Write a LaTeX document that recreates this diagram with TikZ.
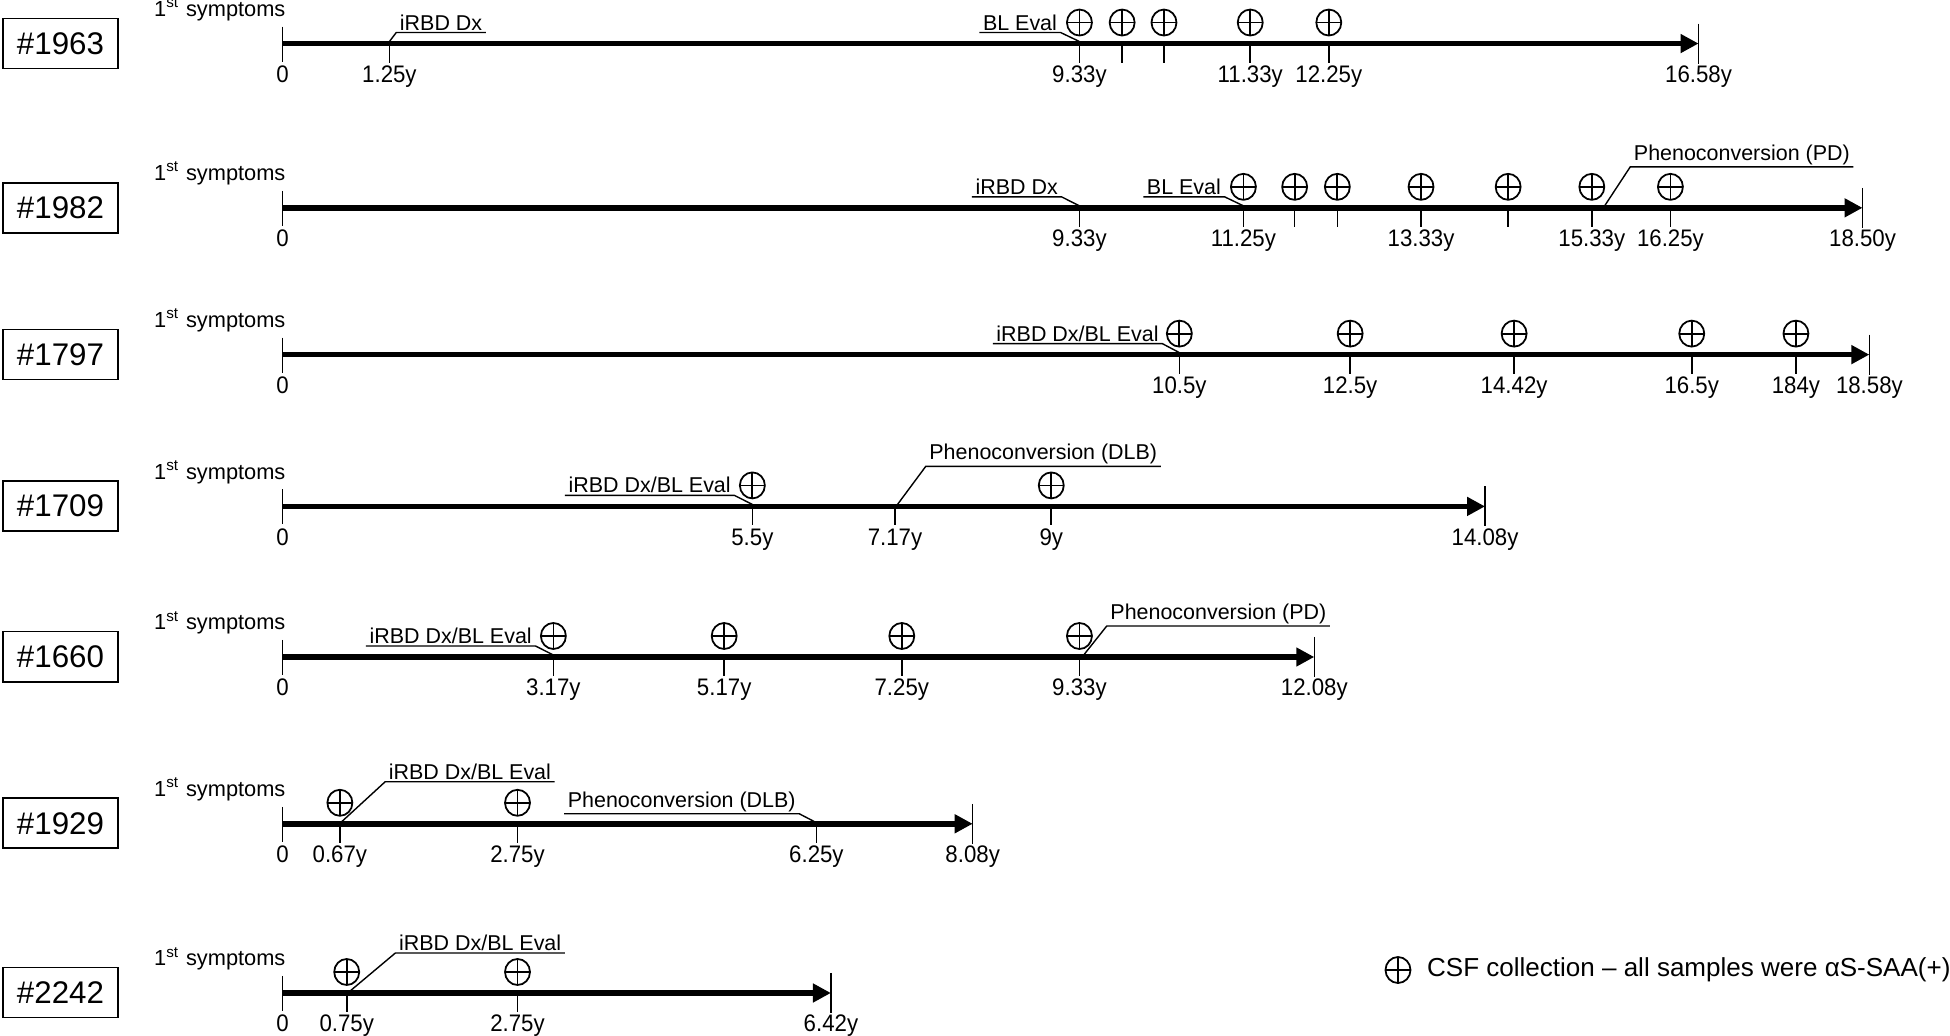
\documentclass[tikz,border=0pt]{standalone}
\usepackage{fontspec}
\setmainfont{Liberation Sans}
\newfontfamily\labfont[FakeStretch=0.93]{Liberation Sans}
\usetikzlibrary{shapes.geometric, arrows.meta, positioning}

\tikzset{
  %% Patient ID box
  idbox/.style={
    rectangle, draw=black, line width=0.5pt,
    minimum width=1.15cm, minimum height=0.5cm,
    font=\fontsize{8.9}{11}\selectfont, inner sep=2pt
  },
  %% Time axis
  taxis/.style={-{Triangle[length=0.18cm,width=0.18cm]},
                draw=black, line width=1.6pt},
  %% Tick marks
  ticmark/.style={draw=black, line width=0.45pt},
  %% Year label
  ylab/.style={anchor=base, inner sep=0pt,
               font=\labfont\fontsize{6.8}{8}\selectfont},
  %% Onset label
  sympt/.style={anchor=base east, inner sep=0pt,
                font=\fontsize{6.2}{7.5}\selectfont},
  %% Event note with underline
  note/.style={inner xsep=0.03cm, inner ysep=0.015cm,
               font=\fontsize{6.1}{7.3}\selectfont},
  uline/.style={draw=black, line width=0.4pt},
  %% CSF collection marker
  csf/.style={
    ellipse, draw=black, line width=0.5pt,
    minimum width=0.25cm, minimum height=0.26cm, inner sep=0pt,
    path picture={
      \draw[line width=0.5pt]
        (path picture bounding box.north) -- (path picture bounding box.south)
        (path picture bounding box.west) -- (path picture bounding box.east);
    }
  },
}

\begin{document}
\begin{tikzpicture}[x=0.01cm, y=-0.01cm]
  \useasboundingbox (0,0) rectangle (1950,1035);

  %% #1963
  \node[idbox] (id1963) at (60.5,43.5) {\#1963};
  \begin{scope}[xshift=2.825cm, yshift=-0.435cm, x=0.8535cm]
    \coordinate (a1s) at (0,0);
    \coordinate (a1e) at (16.58,0);
    \draw[taxis] (a1s) -- (a1e);
    \draw[ticmark] (0,-17) -- (0,18);
    \draw[ticmark] (16.58,-20) -- (16.58,20);
    \node[sympt] (s1963) at (0.04,-27) {1\textsuperscript{st} symptoms};
    \node[ylab] at (0,39) {0};
    \node[ylab] at (16.58,39) {16.58y};
    \foreach \t/\l in {1.25/1.25y, 9.33/9.33y, 9.83/, 10.32/, 11.33/11.33y, 12.25/12.25y}{
      \draw[ticmark] (\t,0) -- (\t,19);
      \node[ylab] at (\t,39) {\l};
    }
    \foreach \t in {9.33, 9.83, 10.32, 11.33, 12.25}
      \node[csf] at (\t,-21) {};
    \node[note, anchor=south west] (n1963a) at (1.33,-11) {iRBD Dx};
    \coordinate (p1963a) at (1.25,-2);
    \draw[uline] (n1963a.south east) -- (n1963a.south west) -- (p1963a);
    \node[note, anchor=south east] (n1963b) at (9.11,-11) {BL Eval};
    \coordinate (p1963b) at (9.33,-2);
    \draw[uline] (n1963b.south west) -- (n1963b.south east) -- (p1963b);
  \end{scope}

  %% #1982
  \node[idbox] (id1982) at (60.5,207.7) {\#1982};
  \begin{scope}[xshift=2.825cm, yshift=-2.077cm, x=0.8535cm]
    \coordinate (a2s) at (0,0);
    \coordinate (a2e) at (18.50,0);
    \draw[taxis] (a2s) -- (a2e);
    \draw[ticmark] (0,-17) -- (0,18);
    \draw[ticmark] (18.50,-20) -- (18.50,20);
    \node[sympt] (s1982) at (0.04,-27) {1\textsuperscript{st} symptoms};
    \node[ylab] at (0,39) {0};
    \node[ylab] at (18.50,39) {18.50y};
    \foreach \t/\l in {9.33/9.33y, 11.25/11.25y, 11.85/, 12.35/, 13.33/13.33y, 14.35/, 15.33/15.33y, 16.25/16.25y}{
      \draw[ticmark] (\t,0) -- (\t,19);
      \node[ylab] at (\t,39) {\l};
    }
    \foreach \t in {11.25, 11.85, 12.35, 13.33, 14.35, 15.33, 16.25}
      \node[csf] at (\t,-21) {};
    \node[note, anchor=south east] (n1982a) at (9.12,-11) {iRBD Dx};
    \coordinate (p1982a) at (9.33,-2);
    \draw[uline] (n1982a.south west) -- (n1982a.south east) -- (p1982a);
    \node[note, anchor=south east] (n1982b) at (11.03,-11) {BL Eval};
    \coordinate (p1982b) at (11.25,-2);
    \draw[uline] (n1982b.south west) -- (n1982b.south east) -- (p1982b);
    \node[note, anchor=south west] (n1982c) at (15.78,-41) {Phenoconversion (PD)};
    \coordinate (p1982c) at (15.48,-2);
    \draw[uline] (n1982c.south east) -- (n1982c.south west) -- (p1982c);
  \end{scope}

  %% #1797
  \node[idbox] (id1797) at (60.5,354.4) {\#1797};
  \begin{scope}[xshift=2.825cm, yshift=-3.544cm, x=0.8535cm]
    \coordinate (a3s) at (0,0);
    \coordinate (a3e) at (18.58,0);
    \draw[taxis] (a3s) -- (a3e);
    \draw[ticmark] (0,-17) -- (0,18);
    \draw[ticmark] (18.58,-20) -- (18.58,20);
    \node[sympt] (s1797) at (0.04,-27) {1\textsuperscript{st} symptoms};
    \node[ylab] at (0,39) {0};
    \node[ylab] at (18.58,39) {18.58y};
    \foreach \t/\l in {10.5/10.5y, 12.5/12.5y, 14.42/14.42y, 16.5/16.5y, 17.72/184y}{
      \draw[ticmark] (\t,0) -- (\t,19);
      \node[ylab] at (\t,39) {\l};
      \node[csf] at (\t,-21) {};
    }
    \node[note, anchor=south east] (n1797a) at (10.3,-11) {iRBD Dx/BL Eval};
    \coordinate (p1797a) at (10.5,-2);
    \draw[uline] (n1797a.south west) -- (n1797a.south east) -- (p1797a);
  \end{scope}

  %% #1709
  \node[idbox] (id1709) at (60.5,506.1) {\#1709};
  \begin{scope}[xshift=2.825cm, yshift=-5.061cm, x=0.8535cm]
    \coordinate (a4s) at (0,0);
    \coordinate (a4e) at (14.08,0);
    \draw[taxis] (a4s) -- (a4e);
    \draw[ticmark] (0,-17) -- (0,18);
    \draw[ticmark] (14.08,-20) -- (14.08,20);
    \node[sympt] (s1709) at (0.04,-27) {1\textsuperscript{st} symptoms};
    \node[ylab] at (0,39) {0};
    \node[ylab] at (14.08,39) {14.08y};
    \foreach \t/\l in {5.5/5.5y, 7.17/7.17y, 9/9y}{
      \draw[ticmark] (\t,0) -- (\t,19);
      \node[ylab] at (\t,39) {\l};
    }
    \foreach \t in {5.5, 9}
      \node[csf] at (\t,-21) {};
    \node[note, anchor=south east] (n1709a) at (5.29,-11) {iRBD Dx/BL Eval};
    \coordinate (p1709a) at (5.5,-2);
    \draw[uline] (n1709a.south west) -- (n1709a.south east) -- (p1709a);
    \node[note, anchor=south west] (n1709b) at (7.53,-40) {Phenoconversion (DLB)};
    \coordinate (p1709b) at (7.2,-2);
    \draw[uline] (n1709b.south east) -- (n1709b.south west) -- (p1709b);
  \end{scope}

  %% #1660
  \node[idbox] (id1660) at (60.5,656.6) {\#1660};
  \begin{scope}[xshift=2.825cm, yshift=-6.566cm, x=0.8535cm]
    \coordinate (a5s) at (0,0);
    \coordinate (a5e) at (12.08,0);
    \draw[taxis] (a5s) -- (a5e);
    \draw[ticmark] (0,-17) -- (0,18);
    \draw[ticmark] (12.08,-20) -- (12.08,20);
    \node[sympt] (s1660) at (0.04,-27) {1\textsuperscript{st} symptoms};
    \node[ylab] at (0,39) {0};
    \node[ylab] at (12.08,39) {12.08y};
    \foreach \t/\l in {3.17/3.17y, 5.17/5.17y, 7.25/7.25y, 9.33/9.33y}{
      \draw[ticmark] (\t,0) -- (\t,19);
      \node[ylab] at (\t,39) {\l};
      \node[csf] at (\t,-21) {};
    }
    \node[note, anchor=south east] (n1660a) at (2.96,-11) {iRBD Dx/BL Eval};
    \coordinate (p1660a) at (3.17,-2);
    \draw[uline] (n1660a.south west) -- (n1660a.south east) -- (p1660a);
    \node[note, anchor=south west] (n1660b) at (9.65,-31) {Phenoconversion (PD)};
    \coordinate (p1660b) at (9.38,-2);
    \draw[uline] (n1660b.south east) -- (n1660b.south west) -- (p1660b);
  \end{scope}

  %% #1929
  \node[idbox] (id1929) at (60.5,823.3) {\#1929};
  \begin{scope}[xshift=2.825cm, yshift=-8.233cm, x=0.8535cm]
    \coordinate (a6s) at (0,0);
    \coordinate (a6e) at (8.08,0);
    \draw[taxis] (a6s) -- (a6e);
    \draw[ticmark] (0,-17) -- (0,18);
    \draw[ticmark] (8.08,-20) -- (8.08,20);
    \node[sympt] (s1929) at (0.04,-27) {1\textsuperscript{st} symptoms};
    \node[ylab] at (0,39) {0};
    \node[ylab] at (8.08,39) {8.08y};
    \foreach \t/\l in {0.67/0.67y, 2.75/2.75y, 6.25/6.25y}{
      \draw[ticmark] (\t,0) -- (\t,19);
      \node[ylab] at (\t,39) {\l};
    }
    \foreach \t in {0.67, 2.75}
      \node[csf] at (\t,-21) {};
    \node[note, anchor=south west] (n1929a) at (1.2,-42) {iRBD Dx/BL Eval};
    \coordinate (p1929a) at (0.69,-2);
    \draw[uline] (n1929a.south east) -- (n1929a.south west) -- (p1929a);
    \node[note, anchor=south east] (n1929b) at (6.05,-10) {Phenoconversion (DLB)};
    \coordinate (p1929b) at (6.23,-2);
    \draw[uline] (n1929b.south west) -- (n1929b.south east) -- (p1929b);
  \end{scope}

  %% #2242
  \node[idbox] (id2242) at (60.5,992.4) {\#2242};
  \begin{scope}[xshift=2.825cm, yshift=-9.924cm, x=0.8535cm]
    \coordinate (a7s) at (0,0);
    \coordinate (a7e) at (6.42,0);
    \draw[taxis] (a7s) -- (a7e);
    \draw[ticmark] (0,-17) -- (0,18);
    \draw[ticmark] (6.42,-20) -- (6.42,20);
    \node[sympt] (s2242) at (0.04,-27) {1\textsuperscript{st} symptoms};
    \node[ylab] at (0,39) {0};
    \node[ylab] at (6.42,39) {6.42y};
    \foreach \t/\l in {0.75/0.75y, 2.75/2.75y}{
      \draw[ticmark] (\t,0) -- (\t,19);
      \node[ylab] at (\t,39) {\l};
      \node[csf] at (\t,-21) {};
    }
    \node[note, anchor=south west] (n2242a) at (1.32,-40) {iRBD Dx/BL Eval};
    \coordinate (p2242a) at (0.79,-2);
    \draw[uline] (n2242a.south east) -- (n2242a.south west) -- (p2242a);
  \end{scope}

  %% Legend
  \node[csf] (lgcsf) at (1398,970) {};
  \node[right=0.15cm of lgcsf, inner sep=0pt,
        font=\fontsize{7.4}{9}\selectfont] (lgtxt)
        {CSF collection – all samples were αS-SAA(+)};
\end{tikzpicture}
\end{document}
